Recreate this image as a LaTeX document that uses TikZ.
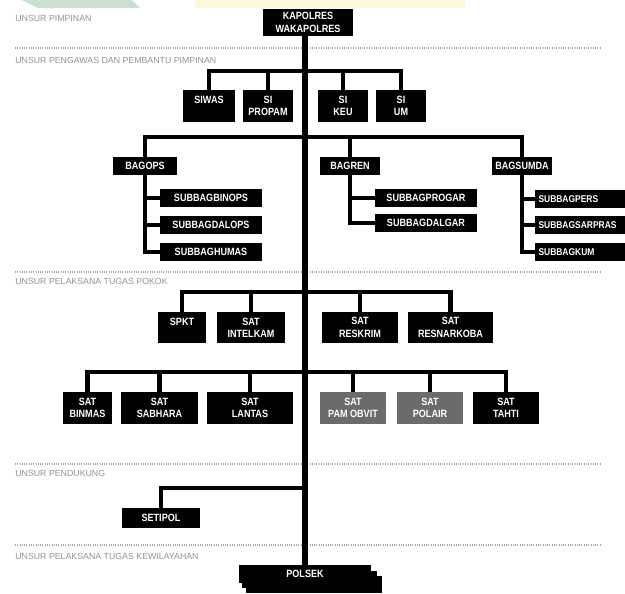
\documentclass[tikz,border=0pt]{standalone}
\usepackage{fontspec}
\setmainfont{Liberation Sans}
\newfontfamily\boxfont{Liberation Sans}[FakeStretch=0.86]
\definecolor{deco}{HTML}{CBDFD3}
\definecolor{pale}{HTML}{FDF7DC}
\definecolor{satgray}{HTML}{6B6B6B}
\tikzset{
  unit/.style={fill=black,text=white,font=\boxfont\fontsize{6}{7}\selectfont\bfseries,align=center,inner sep=0pt},
  sub/.style={unit,minimum width=2.04cm,minimum height=0.36cm},
  subleft/.style={sub,text width=1.9cm,align=left,font=\boxfont\fontsize{5.6}{7}\selectfont\bfseries},
  bag/.style={unit,minimum height=0.36cm},
  sat/.style={unit,minimum height=0.64cm},
  link/.style={line width=2.8pt},
  level/.style={gray!70,dash pattern=on 0.5pt off 0.8pt,line width=0.6pt},
  tag/.style={anchor=west,text=gray!85,font=\fontsize{5}{6}\selectfont,inner sep=0pt}
}
\begin{document}
\begin{tikzpicture}[x=0.02cm,y=-0.02cm]
\useasboundingbox (0,0) rectangle (625,593);
\clip (0,0) rectangle (625,593);
\fill[deco] (22,0) -- (132,0) -- (140,8) -- (38,8) -- cycle;
\fill[pale] (195,0) rectangle (465,8);
\draw[level] (15,48) -- (600,48);
\draw[level] (15,272) -- (600,272);
\draw[level] (15,464) -- (600,464);
\draw[level] (15,545) -- (600,545);
\node[tag] (tpimpinan) at (15,18) {UNSUR PIMPINAN};
\node[tag] (tpengawas) at (15,60) {UNSUR PENGAWAS DAN PEMBANTU PIMPINAN};
\node[tag] (tpokok) at (15,281) {UNSUR PELAKSANA TUGAS POKOK};
\node[tag] (tpendukung) at (15,473) {UNSUR PENDUKUNG};
\node[tag] (twilayah) at (15,556) {UNSUR PELAKSANA TUGAS KEWILAYAHAN};
\node[unit,minimum width=1.8cm,minimum height=0.54cm] (kapolres) at (308,22.5) {KAPOLRES\\WAKAPOLRES};
\node[sat,minimum width=1.04cm] (siwas) at (209,106) {SIWAS\\~};
\node[sat,minimum width=1.0cm] (sipropam) at (268,106) {SI\\PROPAM};
\node[sat,minimum width=1.0cm] (sikeu) at (343,106) {SI\\KEU};
\node[sat,minimum width=1.0cm] (sium) at (401,106) {SI\\UM};
\node[bag,minimum width=1.3cm] (bagops) at (145,166) {BAGOPS};
\node[bag,minimum width=1.2cm] (bagren) at (350,166) {BAGREN};
\node[bag,minimum width=1.2cm] (bagsumda) at (522,166) {BAGSUMDA};
\node[sub] (subbagbinops) at (211,198) {SUBBAGBINOPS};
\node[sub] (subbagdalops) at (211,225) {SUBBAGDALOPS};
\node[sub] (subbaghumas) at (211,252) {SUBBAGHUMAS};
\node[sub] (subbagprogar) at (426,198) {SUBBAGPROGAR};
\node[sub] (subbagdalgar) at (426,223) {SUBBAGDALGAR};
\node[subleft] (subbagpers) at (586,199) {SUBBAGPERS};
\node[subleft] (subbagsarpras) at (586,225) {SUBBAGSARPRAS};
\node[subleft] (subbagkum) at (586,252) {SUBBAGKUM};
\node[sat,minimum width=0.96cm,minimum height=0.62cm] (spkt) at (182,327.5) {SPKT\\~};
\node[sat,minimum width=1.36cm,minimum height=0.62cm] (satintelkam) at (251,327.5) {SAT\\INTELKAM};
\node[sat,minimum width=1.52cm,minimum height=0.62cm] (satreskrim) at (360,327.5) {SAT\\RESKRIM};
\node[sat,minimum width=1.7cm,minimum height=0.62cm] (satresnarkoba) at (450.5,327.5) {SAT\\RESNARKOBA};
\node[sat,minimum width=0.98cm] (satbinmas) at (87.5,408) {SAT\\BINMAS};
\node[sat,minimum width=1.54cm] (satsabhara) at (159.5,408) {SAT\\SABHARA};
\node[sat,minimum width=1.72cm] (satlantas) at (250,408) {SAT\\LANTAS};
\node[sat,minimum width=1.32cm,fill=satgray] (satpamobvit) at (353,408) {SAT\\PAM OBVIT};
\node[sat,minimum width=1.32cm,fill=satgray] (satpolair) at (430,408) {SAT\\POLAIR};
\node[sat,minimum width=1.32cm] (sattahti) at (506,408) {SAT\\TAHTI};
\node[unit,minimum width=1.56cm,minimum height=0.4cm] (setipol) at (161,518) {SETIPOL};
\fill (242,571) rectangle (377,588);
\fill (246,576) rectangle (382,593);
\node[unit,minimum width=2.64cm,minimum height=0.36cm] (polsek) at (305,574) {POLSEK};
\coordinate (j1) at (305,71);
\coordinate (j2) at (305,137);
\coordinate (j3) at (305,292);
\coordinate (j4) at (305,372);
\coordinate (j5) at (305,488);
\draw[line width=3.4pt] (kapolres.south -| polsek.north) -- (polsek.north);
\draw[link] (siwas.north) |- (j1) -| (sium.north);
\draw[link] (sipropam.north) -- (sipropam.north |- j1);
\draw[link] (sikeu.north) -- (sikeu.north |- j1);
\draw[link] (bagops.north) |- (j2) -| (bagsumda.north);
\draw[link] (bagren.north) -- (bagren.north |- j2);
\draw[link] (bagops.south) |- (subbaghumas.west);
\draw[link] (bagops.south |- subbagbinops.west) -- (subbagbinops.west);
\draw[link] (bagops.south |- subbagdalops.west) -- (subbagdalops.west);
\draw[link] (bagren.south) |- (subbagdalgar.west);
\draw[link] (bagren.south |- subbagprogar.west) -- (subbagprogar.west);
\draw[link] (bagsumda.south) |- (subbagkum.west);
\draw[link] (bagsumda.south |- subbagpers.west) -- (subbagpers.west);
\draw[link] (bagsumda.south |- subbagsarpras.west) -- (subbagsarpras.west);
\draw[link] (spkt.north) |- (j3) -| (satresnarkoba.north);
\draw[link] (satintelkam.north) -- (satintelkam.north |- j3);
\draw[link] (satreskrim.north) -- (satreskrim.north |- j3);
\draw[link] (satbinmas.north) |- (j4) -| (sattahti.north);
\draw[link] (satsabhara.north) -- (satsabhara.north |- j4);
\draw[link] (satlantas.north) -- (satlantas.north |- j4);
\draw[link] (satpamobvit.north) -- (satpamobvit.north |- j4);
\draw[link] (satpolair.north) -- (satpolair.north |- j4);
\draw[link] (setipol.north) |- (j5);
\end{tikzpicture}
\end{document}
